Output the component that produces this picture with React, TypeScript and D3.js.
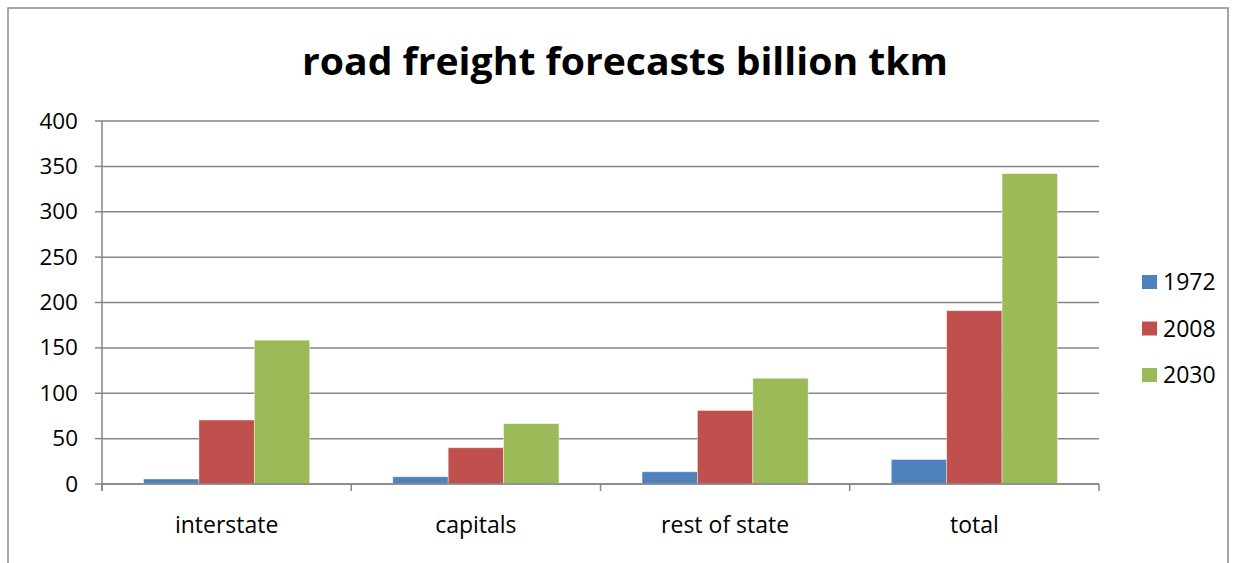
import React from "react";
import * as d3 from "d3";

const categories = ["interstate", "capitals", "rest of state", "total"];
const seriesNames = ["1972", "2008", "2030"];
const values1972 = [5.5, 8, 13.5, 27];
const values2008 = [70.5, 40, 81, 191];
const values2030 = [158.5, 66.5, 116.5, 342];
const yTicks = [0, 50, 100, 150, 200, 250, 300, 350, 400];
const colors = ["#4F81BD", "#C0504D", "#9BBB59"];

const W = 1235;
const H = 563;
const plot = { left: 102, right: 1099, top: 121, bottom: 484 };
const font = "'Open Sans', Lato, sans-serif";

export default function App() {
  const series = [values1972, values2008, values2030];
  const x = d3.scaleBand<string>().domain(categories).range([plot.left, plot.right]).paddingInner(0).paddingOuter(0);
  const y = d3.scaleLinear().domain([0, 400]).range([plot.bottom, plot.top]);
  const bw = x.bandwidth();
  const barW = bw / 4.5;
  const groupOffset = (bw - barW * 3) / 2;
  const inner = d3.scaleBand<string>().domain(seriesNames).range([groupOffset, groupOffset + barW * 3]);

  return (
    <svg width={W} height={H} style={{ position: "absolute", left: 0, top: 0, background: "#fff" }}>
      <path d={`M8,${H} L8,8 L1228,8 L1228,${H}`} fill="none" stroke="#8a8a8a" strokeWidth={1.5} />
      <text x={625} y={75} textAnchor="middle" fontFamily={font} fontWeight="bold" fontSize={38} textLength={646} lengthAdjust="spacingAndGlyphs" fill="#000">
        road freight forecasts billion tkm
      </text>
      {yTicks.map((t) => (
        <g key={t}>
          <line x1={plot.left} x2={plot.right} y1={y(t)} y2={y(t)} stroke="#868686" strokeWidth={1.5} />
          <line x1={plot.left - 7} x2={plot.left} y1={y(t)} y2={y(t)} stroke="#868686" strokeWidth={1.5} />
          <text x={78} y={y(t) + 7.5} textAnchor="end" fontFamily={font} fontSize={22.5} fill="#000">{t}</text>
        </g>
      ))}
      {categories.map((c, i) => (
        <g key={c}>
          {series.map((s, j) => (
            <rect
              key={j}
              x={(x(c) as number) + (inner(seriesNames[j]) as number)}
              y={y(s[i])}
              width={inner.bandwidth()}
              height={y(0) - y(s[i])}
              fill={colors[j]}
              stroke="#ffffff"
              strokeOpacity={0.5}
              strokeWidth={0.8}
            />
          ))}
          <text x={(x(c) as number) + bw / 2} y={533} textAnchor="middle" fontFamily={font} fontSize={23} fill="#000">{c}</text>
        </g>
      ))}
      <line x1={plot.left} x2={plot.left} y1={plot.top} y2={plot.bottom + 7} stroke="#868686" strokeWidth={1.5} />
      <line x1={plot.left} x2={plot.right} y1={plot.bottom} y2={plot.bottom} stroke="#868686" strokeWidth={1.5} />
      {[...categories.map((c) => x(c) as number), plot.right].map((v, i) => (
        <line key={i} x1={v} x2={v} y1={plot.bottom} y2={plot.bottom + 7} stroke="#868686" strokeWidth={1.5} />
      ))}
      {seriesNames.map((n, j) => (
        <g key={n}>
          <rect x={1142} y={275 + j * 46.5} width={15} height={14} fill={colors[j]} />
          <text x={1163} y={290 + j * 46.5} fontFamily={font} fontSize={23} fill="#000">{n}</text>
        </g>
      ))}
    </svg>
  );
}
